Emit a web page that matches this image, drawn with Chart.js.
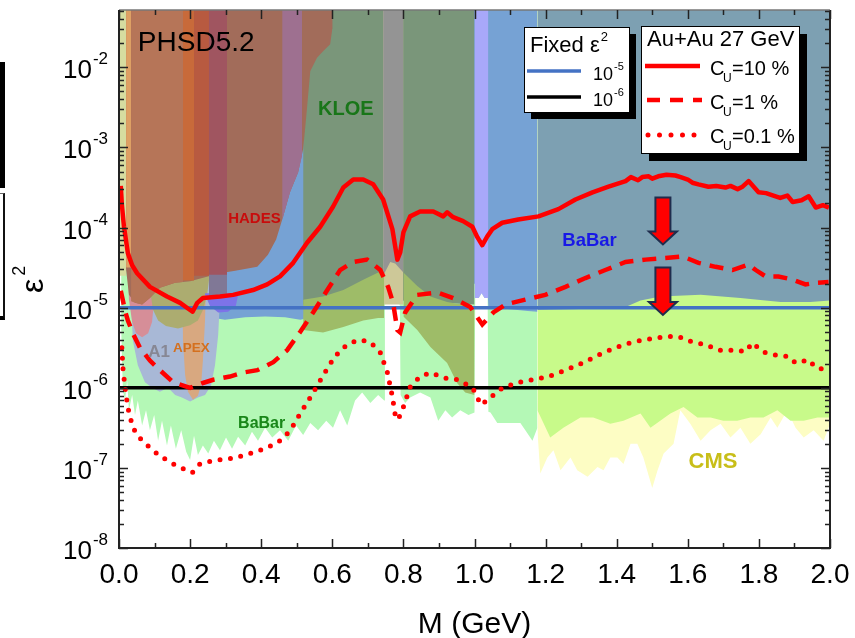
<!DOCTYPE html>
<html>
<head>
<meta charset="utf-8">
<script src="https://cdn.jsdelivr.net/npm/chart.js@4.4.1/dist/chart.umd.min.js"></script>
<style>
  html, body { margin: 0; padding: 0; background: #fff; }
  #wrap { position: relative; width: 855px; height: 638px; overflow: hidden; }
  #c { position: absolute; left: 0; top: 0; }
  .edge1 { position: absolute; left: 0; top: 62px; width: 5px; height: 126px; background: #000; }
  .edge2 { position: absolute; left: 0; top: 193px; width: 3px; height: 122px; border-right: 2px solid #111; border-top: 1px solid #666; border-bottom: 4px solid #000; }
</style>
</head>
<body>
<div id="wrap">
  <canvas id="c" width="855" height="638"></canvas>
  <div class="edge1"></div>
  <div class="edge2"></div>
</div>
<script>
const FONT = '"Liberation Sans", Arial, Helvetica, sans-serif';

// axes
const xTicks = [0, 0.2, 0.4, 0.6, 0.8, 1.0, 1.2, 1.4, 1.6, 1.8, 2.0];
const yTickExps = [-8, -7, -6, -5, -4, -3, -2];
const fixedEps = [1e-5, 1e-6];

// PHSD5.2 curves, M (GeV) and log10(eps^2)
const solidX = [0.005,0.008,0.014,0.025,0.037,0.051,0.087,0.135,0.172,0.194,0.207,0.22,0.236,0.284,0.321,0.377,0.417,0.453,0.49,0.529,0.566,0.602,0.631,0.659,0.687,0.715,0.743,0.769,0.783,0.791,0.8,0.819,0.847,0.884,0.912,0.923,0.94,0.968,0.994,1.008,1.022,1.036,1.05,1.078,1.123,1.18,1.236,1.284,1.332,1.377,1.425,1.44,1.46,1.472,1.49,1.50,1.517,1.54,1.565,1.58,1.60,1.613,1.63,1.658,1.68,1.706,1.72,1.74,1.754,1.771,1.799,1.82,1.847,1.86,1.88,1.895,1.92,1.94,1.96,1.98,1.997];
const solidExp = [-3.48,-3.71,-3.99,-4.32,-4.47,-4.57,-4.74,-4.86,-4.94,-5.01,-5.05,-4.94,-4.88,-4.86,-4.84,-4.78,-4.71,-4.61,-4.44,-4.19,-3.99,-3.74,-3.5,-3.4,-3.4,-3.46,-3.65,-4.02,-4.4,-4.31,-4.06,-3.86,-3.8,-3.8,-3.86,-3.81,-3.87,-3.92,-3.99,-4.12,-4.22,-4.11,-4.02,-3.94,-3.9,-3.86,-3.77,-3.65,-3.56,-3.49,-3.42,-3.37,-3.41,-3.37,-3.36,-3.39,-3.36,-3.34,-3.35,-3.37,-3.40,-3.44,-3.46,-3.49,-3.48,-3.5,-3.48,-3.52,-3.49,-3.42,-3.56,-3.57,-3.61,-3.63,-3.60,-3.68,-3.66,-3.61,-3.75,-3.72,-3.75];

const dashX = [0.005,0.011,0.017,0.025,0.039,0.059,0.087,0.115,0.152,0.2,0.236,0.265,0.312,0.349,0.389,0.434,0.473,0.51,0.546,0.586,0.622,0.659,0.698,0.735,0.757,0.771,0.783,0.791,0.805,0.839,0.895,0.94,0.988,1.022,1.053,1.087,1.143,1.199,1.256,1.312,1.368,1.425,1.481,1.537,1.585,1.63,1.678,1.726,1.771,1.791,1.819,1.855,1.895,1.931,1.959,1.996];
const dashExp = [-4.79,-4.91,-5.04,-5.16,-5.32,-5.5,-5.66,-5.78,-5.93,-6.0,-5.94,-5.9,-5.86,-5.81,-5.78,-5.68,-5.53,-5.3,-5.06,-4.78,-4.53,-4.43,-4.4,-4.53,-4.74,-4.94,-5.28,-5.31,-5.06,-4.84,-4.81,-4.88,-4.99,-5.21,-5.06,-4.96,-4.9,-4.84,-4.74,-4.63,-4.53,-4.43,-4.4,-4.38,-4.36,-4.44,-4.49,-4.53,-4.46,-4.53,-4.61,-4.61,-4.65,-4.71,-4.69,-4.68];

const dotX = [0.008,0.011,0.017,0.025,0.039,0.059,0.087,0.115,0.152,0.18,0.206,0.228,0.265,0.321,0.377,0.417,0.453,0.481,0.51,0.538,0.566,0.594,0.622,0.65,0.678,0.707,0.735,0.755,0.769,0.777,0.785,0.8,0.819,0.847,0.876,0.918,0.954,0.994,1.008,1.016,1.039,1.067,1.115,1.163,1.208,1.256,1.304,1.349,1.396,1.444,1.481,1.509,1.546,1.574,1.613,1.65,1.686,1.734,1.762,1.782,1.81,1.847,1.883,1.903,1.94,1.96,1.996];
const dotExp = [-5.5,-5.75,-6.0,-6.25,-6.5,-6.63,-6.75,-6.85,-6.95,-7.01,-7.06,-6.95,-6.91,-6.88,-6.81,-6.75,-6.66,-6.54,-6.32,-6.12,-5.91,-5.7,-5.53,-5.44,-5.4,-5.43,-5.56,-5.81,-6.11,-6.34,-6.4,-6.24,-5.99,-5.86,-5.81,-5.88,-5.9,-6.0,-6.11,-6.21,-6.15,-6.03,-5.94,-5.9,-5.86,-5.78,-5.69,-5.59,-5.5,-5.43,-5.4,-5.38,-5.36,-5.36,-5.43,-5.46,-5.53,-5.53,-5.55,-5.44,-5.55,-5.59,-5.61,-5.69,-5.65,-5.75,-5.78];

// excluded regions: lower edges (log10 eps^2), filled upwards unless a band
const cmsX = [1.177,1.185,1.205,1.222,1.242,1.27,1.289,1.318,1.346,1.363,1.382,1.402,1.419,1.439,1.458,1.475,1.5,1.515,1.532,1.56,1.579,1.607,1.636,1.664,1.692,1.72,1.748,1.776,1.805,1.833,1.852,1.88,1.903,1.926,1.954,1.982,2.0];
const cmsLow = [-6.53,-7.07,-6.87,-6.78,-7.03,-6.87,-7.03,-7.11,-6.99,-7.03,-6.87,-6.87,-6.95,-6.7,-6.7,-6.87,-7.25,-7.03,-6.82,-6.7,-6.28,-6.45,-6.66,-6.53,-6.45,-6.62,-6.5,-6.7,-6.58,-6.37,-6.5,-6.28,-6.5,-6.62,-6.53,-6.66,-6.45];

const ygX = [1.177,1.213,1.25,1.298,1.334,1.382,1.419,1.467,1.495,1.551,1.588,1.627,1.664,1.7,1.739,1.776,1.813,1.852,1.889,1.926,1.965,2.0];
const ygLow = [-6.28,-6.62,-6.5,-6.37,-6.37,-6.45,-6.41,-6.32,-6.5,-6.32,-6.24,-6.37,-6.37,-6.41,-6.41,-6.37,-6.37,-6.28,-6.41,-6.41,-6.37,-6.37];

const babarX = [0.006,0.011,0.017,0.023,0.028,0.037,0.045,0.053,0.065,0.076,0.087,0.099,0.11,0.121,0.135,0.146,0.16,0.175,0.189,0.2,0.211,0.222,0.236,0.251,0.267,0.284,0.301,0.318,0.335,0.355,0.374,0.391,0.411,0.431,0.453,0.476,0.498,0.518,0.538,0.56,0.583,0.602,0.622,0.642,0.664,0.684,0.707,0.729,0.746,0.748,0.766,0.79,0.792,0.805,0.819,0.847,0.876,0.898,0.918,0.937,0.96,0.983,1.0,1.002,1.012,1.02,1.028,1.037,1.039,1.045,1.064,1.1,1.129,1.143,1.163,1.177];
const babarLow = [-5.28,-6.03,-6.16,-5.91,-6.28,-6.09,-6.34,-6.16,-6.47,-6.28,-6.53,-6.34,-6.66,-6.41,-6.72,-6.47,-6.76,-6.53,-6.8,-6.9,-6.6,-6.84,-6.72,-6.82,-6.66,-6.78,-6.62,-6.76,-6.61,-6.72,-6.55,-6.66,-6.5,-6.62,-6.53,-6.66,-6.47,-6.59,-6.44,-6.53,-6.41,-6.5,-6.28,-6.47,-6.16,-6.06,-6.19,-6.09,-6.16,-4.96,-4.92,-4.96,-6.09,-6.19,-6.12,-6.06,-6.12,-6.41,-6.28,-6.37,-6.28,-6.34,-6.31,-4.88,-4.88,-4.82,-4.88,-4.88,-6.3,-6.31,-6.44,-6.44,-6.44,-6.53,-6.66,-6.5];

const blueX = [0.22,0.228,0.256,0.298,0.355,0.411,0.467,0.51,0.52,0.522,1.036,1.039,1.1,1.15,1.177];
const blueLow = [-4.9,-5.05,-5.12,-5.15,-5.12,-5.11,-5.12,-5.15,-5.14,-4.7,-4.7,-4.99,-5.02,-5.04,-5.05];

const kloeX = [0.518,0.594,0.678,0.791,0.904,1.0];
const kloeLow = [-4.96,-4.94,-4.91,-4.91,-4.94,-4.96];

const a1X = [0.034,0.039,0.053,0.073,0.093,0.115,0.138,0.158,0.177,0.2,0.222,0.242,0.259,0.27,0.279,0.284];
const a1Low = [-4.9,-5.41,-5.72,-5.93,-6.0,-6.05,-6.0,-6.09,-6.12,-6.17,-6.12,-6.09,-5.97,-5.72,-5.34,-4.9];

const apexX = [0.177,0.18,0.186,0.194,0.208,0.222,0.231,0.236,0.242,0.245];
const apexLow = [-4.28,-5.41,-5.84,-6.05,-6.15,-6.1,-5.96,-5.66,-5.16,-4.66];

const pinkX = [0.023,0.028,0.037,0.048,0.065,0.082,0.093,0.099,0.101];
const pinkLow = [-4.28,-4.9,-5.18,-5.32,-5.37,-5.32,-5.18,-4.9,-4.52];

const khakiX = [0.087,0.096,0.11,0.132,0.166,0.2,0.222,0.236,0.248,0.253];
const khakiLow = [-4.78,-5.03,-5.16,-5.23,-5.26,-5.22,-5.16,-5.03,-4.84,-4.66];

const violetX = [0.242,0.256,0.279,0.307,0.329,0.335];
const violetHigh = [-4.82,-4.82,-4.82,-4.82,-4.82,-4.82];
const violetLow = [-4.84,-4.98,-5.06,-5.05,-4.97,-4.84];

const hadesX = [0.014,0.02,0.028,0.045,0.065,0.087,0.115,0.158,0.2,0.242,0.284,0.327,0.389,0.419,0.442,0.462,0.481,0.504,0.518,0.526,0.538,0.557,0.574,0.594,0.6,0.601];
const hadesLow = [-3.65,-4.53,-4.84,-4.94,-4.96,-4.88,-4.75,-4.69,-4.67,-4.62,-4.57,-4.54,-4.49,-4.34,-4.15,-3.86,-3.56,-3.31,-3.02,-2.65,-2.05,-1.88,-1.8,-1.71,-1.52,-1.285];

// narrow beam-dump style strips seen through HADES
const stripYgX = [0.001, 0.02], stripYgLow = [-4.6, -4.6];
const stripTanX = [0.02, 0.034], stripTanLow = [-4.5, -4.5];
const stripBrX = [0.034,0.045,0.065,0.087,0.115,0.158,0.18], stripBrLow = [-4.92,-4.94,-4.96,-4.88,-4.75,-4.69,-4.68];
const stripOrX = [0.18, 0.211], stripOrLow = [-4.66, -4.66];
const stripRustX = [0.211, 0.253], stripRustLow = [-4.6, -4.6];
const stripGpX = [0.253, 0.304], stripGpLow = [-4.86, -4.86];
const stripRoseX = [0.253, 0.304], stripRoseLow = [-4.59, -4.59];
const stripMauveX = [0.459,0.462,0.481,0.504,0.515], stripMauveLow = [-3.9,-3.86,-3.56,-3.31,-3.1];

const slateX = [1.177,1.354,1.425,1.467,1.523,1.636,1.748,1.861,1.945,2.0];
const slateLow = [-5.03,-5.01,-4.99,-4.91,-4.86,-4.84,-4.88,-4.93,-4.93,-4.91];

const lavX = [1.0,1.012,1.02,1.028,1.039];
const lavLow = [-4.88,-4.88,-4.82,-4.88,-4.88];

const beigeX = [0.743, 0.8], beigeLow = [-4.96, -4.96];
const grayX = [0.743,0.763,0.777,0.8], grayLow = [-4.6,-4.43,-4.45,-4.56];

const oliveLX = [0.518,0.574,0.631,0.687,0.729,0.746];
const oliveLHigh = [-4.9,-4.86,-4.78,-4.65,-4.56,-4.55];
const oliveLLow = [-5.28,-5.31,-5.24,-5.16,-5.13,-5.13];
const oliveRX = [0.8,0.839,0.876,0.923,0.951,0.974,1.0];
const oliveRHigh = [-4.56,-4.73,-4.86,-4.93,-4.95,-4.96,-4.99];
const oliveRLow = [-5.11,-5.28,-5.49,-5.69,-5.94,-6.06,-6.09];

// annotations
const arrowX = 1.53;
const arrowSpans = [[-3.625, -4.21], [-4.5, -5.09]];
const regionLabels = [
  { text: 'PHSD5.2', x: 0.053, e: -1.8, size: 28, bold: false, color: '#000' },
  { text: 'KLOE', x: 0.56, e: -2.59, size: 20, bold: true, color: 'rgb(25,118,25)' },
  { text: 'HADES', x: 0.307, e: -3.94, size: 15, bold: true, color: 'rgb(200,12,12)' },
  { text: 'BaBar', x: 1.247, e: -4.225, size: 18.5, bold: true, color: 'rgb(25,25,230)' },
  { text: 'BaBar', x: 0.335, e: -6.5, size: 16, bold: true, color: 'rgb(25,135,25)' },
  { text: 'A1', x: 0.082, e: -5.61, size: 17, bold: true, color: 'rgb(135,135,148)' },
  { text: 'APEX', x: 0.152, e: -5.55, size: 13.5, bold: true, color: 'rgb(212,112,30)' },
  { text: 'CMS', x: 1.602, e: -7.0, size: 22, bold: true, color: 'rgb(200,190,25)' }
];

const pts = (xs, es) => xs.map((x, i) => ({ x: x, y: Math.pow(10, es[i]) }));

function area(xs, es, color) {
  return { data: pts(xs, es), backgroundColor: color, borderColor: 'transparent', borderWidth: 0, pointRadius: 0, fill: 'end' };
}
function band(xs, hi, lo, color) {
  return [
    { data: pts(xs, hi), borderColor: 'transparent', borderWidth: 0, pointRadius: 0, fill: false },
    { data: pts(xs, lo), backgroundColor: color, borderColor: 'transparent', borderWidth: 0, pointRadius: 0, fill: '-1' }
  ];
}
function hline(v, color, w) {
  return { data: [{ x: 0, y: v }, { x: 2, y: v }], borderColor: color, borderWidth: w, pointRadius: 0, fill: false };
}

// bottom layer first
const layers = [
  area(cmsX, cmsLow, 'rgb(253,253,196)'),
  area(ygX, ygLow, 'rgb(200,250,138)'),
  area(babarX, babarLow, 'rgb(180,248,182)'),
  area(blueX, blueLow, 'rgb(118,162,212)'),
  area(kloeX, kloeLow, 'rgb(122,150,122)'),
  area(a1X, a1Low, 'rgb(168,184,214)'),
  area(apexX, apexLow, 'rgb(216,168,128)'),
  area(pinkX, pinkLow, 'rgb(214,142,152)'),
  area(khakiX, khakiLow, 'rgb(172,172,112)'),
  ...band(violetX, violetHigh, violetLow, 'rgb(125,115,232)'),
  area(hadesX, hadesLow, 'rgb(162,108,90)'),
  area(stripYgX, stripYgLow, 'rgb(214,220,160)'),
  area(stripTanX, stripTanLow, 'rgb(222,160,100)'),
  area(stripBrX, stripBrLow, 'rgb(182,117,88)'),
  area(stripOrX, stripOrLow, 'rgb(200,106,58)'),
  area(stripRustX, stripRustLow, 'rgb(184,90,64)'),
  area(stripGpX, stripGpLow, 'rgb(128,120,150)'),
  area(stripRoseX, stripRoseLow, 'rgb(160,85,96)'),
  area(stripMauveX, stripMauveLow, 'rgb(158,112,144)'),
  area(slateX, slateLow, 'rgb(125,160,178)'),
  area(lavX, lavLow, 'rgb(168,168,250)'),
  area(beigeX, beigeLow, 'rgb(205,200,152)'),
  area(grayX, grayLow, 'rgb(148,148,148)'),
  ...band(oliveLX, oliveLHigh, oliveLLow, 'rgb(158,188,104)'),
  ...band(oliveRX, oliveRHigh, oliveRLow, 'rgb(158,188,104)'),
  hline(fixedEps[0], 'rgb(68,114,196)', 3.5),
  hline(fixedEps[1], '#000', 3.5),
  { data: pts(dotX, dotExp), borderColor: '#ff0000', borderWidth: 5, borderDash: [0, 10.5], borderCapStyle: 'round', pointRadius: 0, fill: false },
  { data: pts(dashX, dashExp), borderColor: '#ff0000', borderWidth: 4.5, borderDash: [14, 9], pointRadius: 0, fill: false },
  { data: pts(solidX, solidExp), borderColor: '#ff0000', borderWidth: 4.5, borderJoinStyle: 'round', pointRadius: 0, fill: false }
];
const datasets = layers.map((d, i) => Object.assign({ order: layers.length - i, tension: 0 }, d));

function supText(ctx, base, sup, x0, y0, size, supSize, rise) {
  ctx.font = size + 'px ' + FONT;
  ctx.fillText(base, x0, y0);
  const w = ctx.measureText(base).width;
  ctx.font = supSize + 'px ' + FONT;
  ctx.fillText(sup, x0 + w + 1, y0 - rise);
}

const decorations = {
  id: 'decorations',
  afterDatasetsDraw(chart) {
    const { ctx, chartArea: a } = chart;
    const xs = chart.scales.x, ys = chart.scales.y;
    const px = v => xs.getPixelForValue(v);
    const py = e => ys.getPixelForValue(Math.pow(10, e));
    ctx.save();
    ctx.textBaseline = 'alphabetic';

    regionLabels.forEach(l => {
      ctx.font = (l.bold ? 'bold ' : '') + l.size + 'px ' + FONT;
      ctx.fillStyle = l.color;
      ctx.textAlign = 'left';
      ctx.fillText(l.text, px(l.x), py(l.e));
    });

    // arrows
    arrowSpans.forEach(([e1, e2]) => {
      const cx = px(arrowX), y1 = py(e1), y2 = py(e2);
      const sw = 7.5, hw = 14, hl = 13;
      ctx.beginPath();
      ctx.moveTo(cx - sw, y1); ctx.lineTo(cx + sw, y1); ctx.lineTo(cx + sw, y2 - hl);
      ctx.lineTo(cx + hw, y2 - hl); ctx.lineTo(cx, y2); ctx.lineTo(cx - hw, y2 - hl);
      ctx.lineTo(cx - sw, y2 - hl); ctx.closePath();
      ctx.fillStyle = '#ff0000'; ctx.fill();
      ctx.strokeStyle = '#1f2d4d'; ctx.lineWidth = 2; ctx.lineJoin = 'miter'; ctx.stroke();
    });

    // frame and inward ticks
    ctx.strokeStyle = '#222'; ctx.lineWidth = 2;
    ctx.beginPath();
    ctx.moveTo(a.left, a.top); ctx.lineTo(a.left, a.bottom); ctx.lineTo(a.right, a.bottom); ctx.lineTo(a.right, a.top);
    ctx.stroke();
    ctx.strokeStyle = '#777'; ctx.lineWidth = 1.5;
    ctx.beginPath(); ctx.moveTo(a.left, a.top); ctx.lineTo(a.right, a.top); ctx.stroke();
    ctx.strokeStyle = '#222';
    ctx.lineWidth = 1.5;
    ctx.beginPath();
    for (let i = 0; i <= 20; i++) {
      const x = Math.round(px(i / 10)) + 0.5, len = i % 2 === 0 ? 9 : 5;
      ctx.moveTo(x, a.bottom); ctx.lineTo(x, a.bottom - len);
      ctx.moveTo(x, a.top); ctx.lineTo(x, a.top + len);
    }
    yTickExps.forEach(p => {
      for (let m = 1; m <= 9; m++) {
        const v = m * Math.pow(10, p);
        if (v > ys.max) break;
        const y = Math.round(ys.getPixelForValue(v)) + 0.5, len = m === 1 ? 9 : 5;
        ctx.moveTo(a.left, y); ctx.lineTo(a.left + len, y);
        ctx.moveTo(a.right, y); ctx.lineTo(a.right - len, y);
      }
    });
    ctx.stroke();

    // tick labels
    ctx.fillStyle = '#000';
    ctx.textAlign = 'center';
    ctx.font = '28px ' + FONT;
    xTicks.forEach(v => ctx.fillText(v.toFixed(1), px(v), a.bottom + 35));
    yTickExps.forEach(p => {
      const y = ys.getPixelForValue(Math.pow(10, p));
      ctx.textAlign = 'right';
      ctx.font = '17px ' + FONT;
      const ex = String(p);
      ctx.fillText(ex, 108, y - 3);
      const ew = ctx.measureText(ex).width;
      ctx.font = '26px ' + FONT;
      ctx.fillText('10', 108 - ew - 1, y + 11);
    });

    // axis titles
    ctx.textAlign = 'center';
    ctx.font = '30px ' + FONT;
    ctx.fillText('M (GeV)', px(1.0), 633);
    ctx.save();
    ctx.translate(43, 293);
    ctx.rotate(-Math.PI / 2);
    ctx.textAlign = 'left';
    ctx.font = '32px ' + FONT;
    ctx.fillText('\u03b5', 0, 0);
    const epsW = ctx.measureText('\u03b5').width;
    ctx.font = '18px ' + FONT;
    ctx.fillText('2', epsW + 3, -18);
    ctx.restore();

    // legend: fixed eps^2
    ctx.textAlign = 'left';
    ctx.fillStyle = '#000'; ctx.fillRect(531, 34, 105, 85);
    ctx.fillStyle = '#fff'; ctx.fillRect(524, 27, 105, 85);
    ctx.strokeStyle = '#000'; ctx.lineWidth = 1; ctx.strokeRect(524.5, 27.5, 105, 85);
    ctx.fillStyle = '#000';
    supText(ctx, 'Fixed \u03b5', '2', 530, 52, 22, 13, 11);
    ctx.lineWidth = 3.5; ctx.setLineDash([]);
    ctx.strokeStyle = 'rgb(68,114,196)';
    ctx.beginPath(); ctx.moveTo(527, 71); ctx.lineTo(581, 71); ctx.stroke();
    ctx.strokeStyle = '#000';
    ctx.beginPath(); ctx.moveTo(527, 97); ctx.lineTo(581, 97); ctx.stroke();
    supText(ctx, '10', '-5', 593, 80, 18, 11, 10);
    supText(ctx, '10', '-6', 593, 106, 18, 11, 10);

    // legend: Au+Au 27 GeV
    ctx.fillStyle = '#000'; ctx.fillRect(649, 34, 158, 127);
    ctx.fillStyle = '#fff'; ctx.fillRect(641, 26, 158, 127);
    ctx.strokeStyle = '#000'; ctx.lineWidth = 1; ctx.strokeRect(641.5, 26.5, 158, 127);
    ctx.fillStyle = '#000';
    ctx.font = '22px ' + FONT;
    ctx.fillText('Au+Au 27 GeV', 647, 46);
    ctx.strokeStyle = '#ff0000';
    ctx.lineWidth = 4.5; ctx.setLineDash([]); ctx.lineCap = 'butt';
    ctx.beginPath(); ctx.moveTo(645, 66); ctx.lineTo(700, 66); ctx.stroke();
    ctx.setLineDash([13, 10]);
    ctx.beginPath(); ctx.moveTo(647, 100); ctx.lineTo(702, 100); ctx.stroke();
    ctx.lineWidth = 5; ctx.setLineDash([0, 11.5]); ctx.lineCap = 'round';
    ctx.beginPath(); ctx.moveTo(648, 135); ctx.lineTo(702, 135); ctx.stroke();
    ctx.setLineDash([]); ctx.lineCap = 'butt';
    [['10', 75], ['1', 109], ['0.1', 143]].forEach(([v, yb]) => {
      ctx.font = '20px ' + FONT;
      ctx.fillText('C', 710, yb);
      ctx.font = '12px ' + FONT;
      ctx.fillText('U', 723, yb + 7);
      ctx.font = '20px ' + FONT;
      ctx.fillText('=' + v + ' %', 732, yb);
    });

    ctx.restore();
  }
};

new Chart(document.getElementById('c'), {
  type: 'line',
  data: { datasets: datasets },
  options: {
    responsive: false,
    animation: false,
    events: [],
    layout: { padding: { left: 119, right: 25, top: 10, bottom: 90 } },
    scales: {
      x: { type: 'linear', display: false, min: 0, max: 2 },
      y: { type: 'logarithmic', display: false, min: 1e-8, max: 0.052 }
    },
    plugins: { legend: { display: false }, tooltip: { enabled: false } }
  },
  plugins: [decorations]
});
</script>
</body>
</html>
